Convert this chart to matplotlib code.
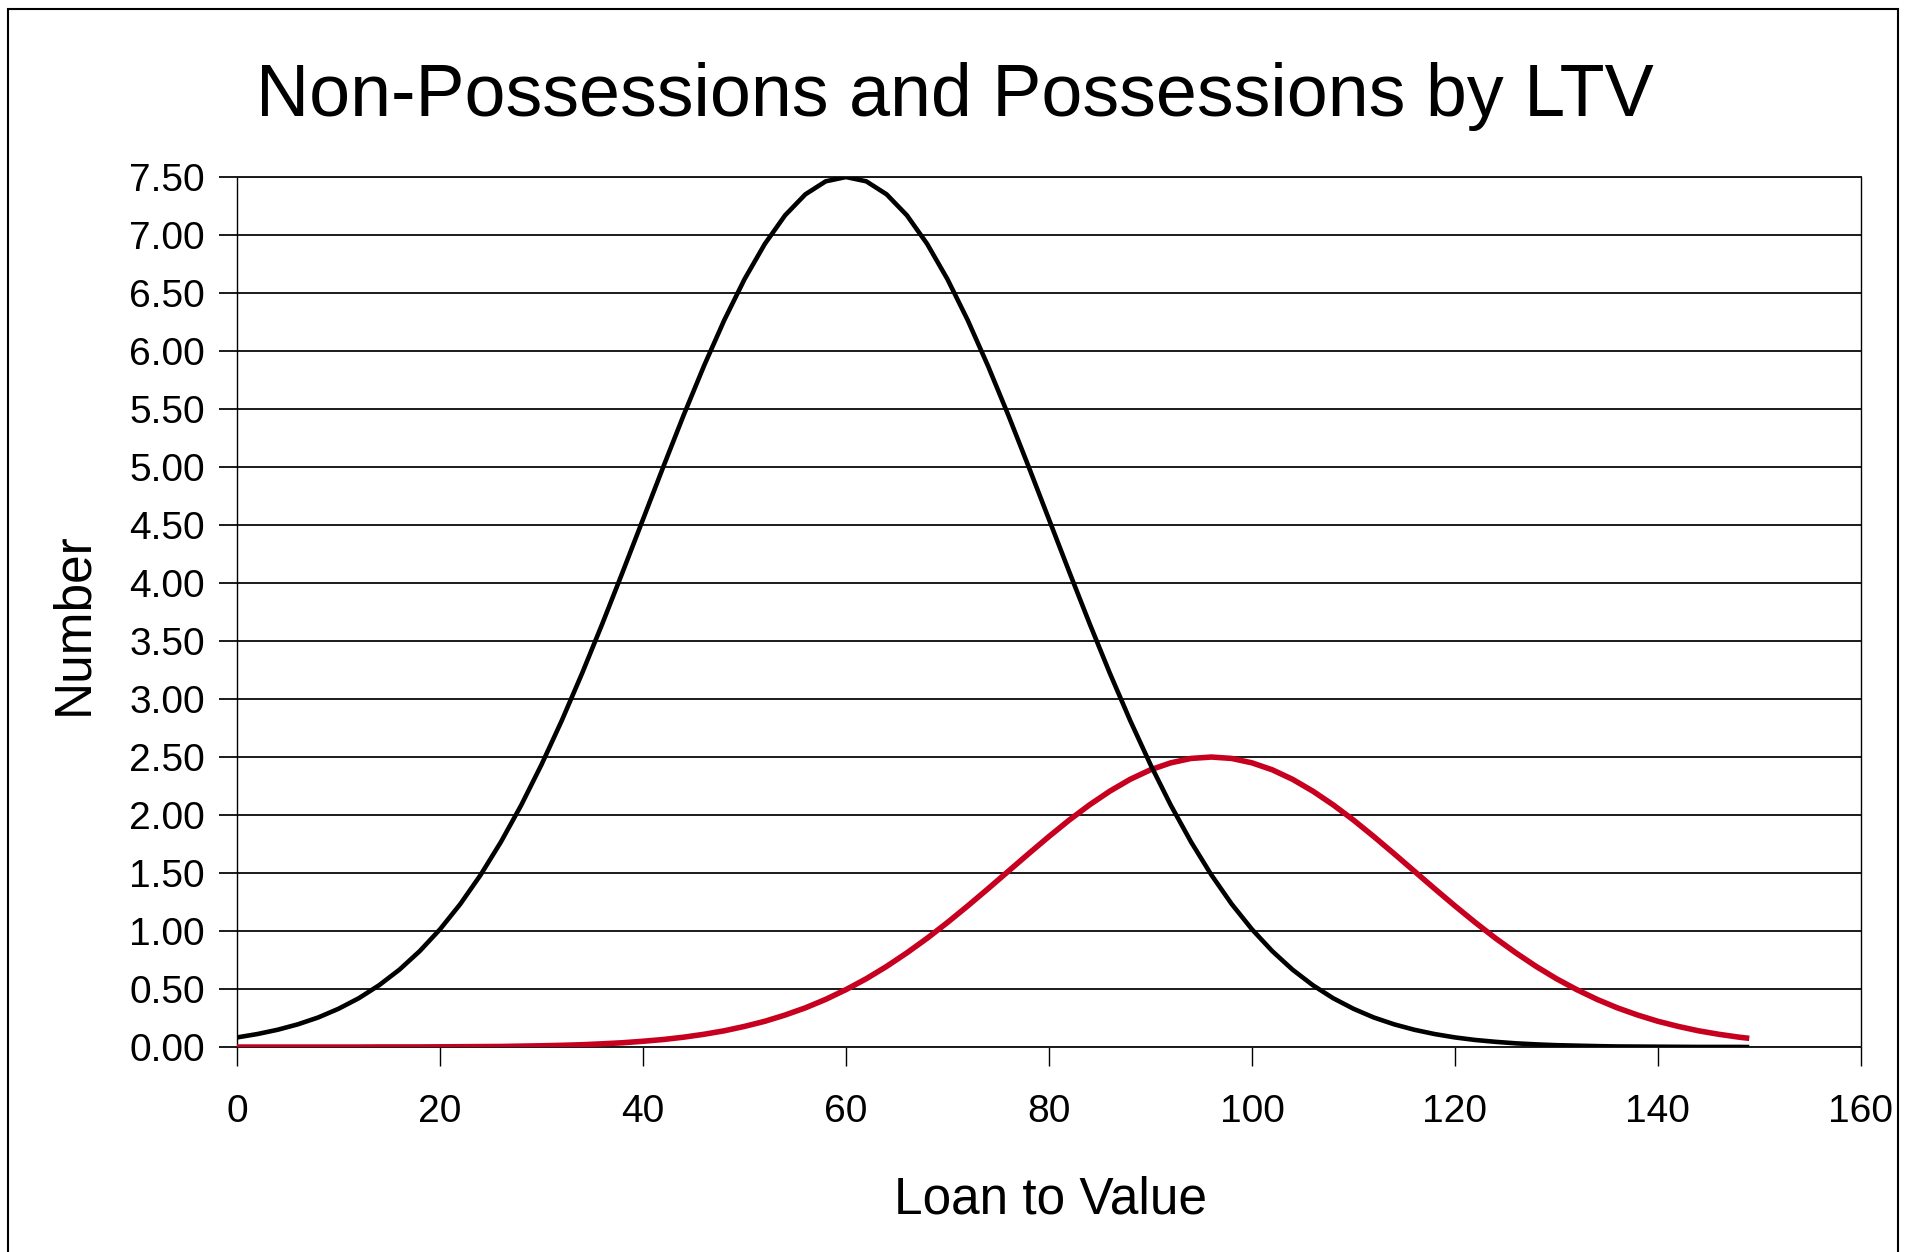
import numpy as np
import matplotlib
matplotlib.use("Agg")
from matplotlib import pyplot as plt
from matplotlib import font_manager
from matplotlib.patches import Rectangle

# Loan to value (x) and number of cases for each group
ltv = [0, 2, 4, 6, 8, 10, 12, 14, 16, 18, 20, 22, 24, 26, 28, 30, 32, 34, 36, 38,
       40, 42, 44, 46, 48, 50, 52, 54, 56, 58, 60, 62, 64, 66, 68, 70, 72, 74, 76, 78,
       80, 82, 84, 86, 88, 90, 92, 94, 96, 98, 100, 102, 104, 106, 108, 110, 112, 114,
       116, 118, 120, 122, 124, 126, 128, 130, 132, 134, 136, 138, 140, 142, 144, 146,
       148, 149]

non_possessions = [0.083, 0.112, 0.149, 0.196, 0.255, 0.330, 0.421, 0.533, 0.667, 0.827,
                   1.015, 1.233, 1.484, 1.768, 2.085, 2.435, 2.815, 3.222, 3.651, 4.096,
                   4.549, 5.002, 5.446, 5.870, 6.265, 6.619, 6.923, 7.170, 7.351, 7.463,
                   7.500, 7.463, 7.351, 7.170, 6.923, 6.619, 6.265, 5.870, 5.446, 5.002,
                   4.549, 4.096, 3.651, 3.222, 2.815, 2.435, 2.085, 1.768, 1.484, 1.233,
                   1.015, 0.827, 0.667, 0.533, 0.421, 0.330, 0.255, 0.196, 0.149, 0.112,
                   0.083, 0.061, 0.045, 0.032, 0.023, 0.016, 0.012, 0.008, 0.005, 0.004,
                   0.003, 0.002, 0.001, 0.001, 0.001, 0.000]

possessions = [0.000, 0.000, 0.000, 0.000, 0.000, 0.000, 0.000, 0.001, 0.001, 0.001,
               0.002, 0.003, 0.004, 0.005, 0.008, 0.011, 0.015, 0.020, 0.028, 0.037,
               0.050, 0.065, 0.085, 0.110, 0.140, 0.178, 0.222, 0.276, 0.338, 0.411,
               0.495, 0.589, 0.695, 0.812, 0.938, 1.074, 1.217, 1.365, 1.516, 1.667,
               1.815, 1.957, 2.088, 2.206, 2.308, 2.390, 2.450, 2.488, 2.500, 2.488,
               2.450, 2.390, 2.308, 2.206, 2.088, 1.957, 1.815, 1.667, 1.516, 1.365,
               1.217, 1.074, 0.938, 0.812, 0.695, 0.589, 0.495, 0.411, 0.338, 0.276,
               0.222, 0.178, 0.140, 0.110, 0.085, 0.075]

x_ticks = [0, 20, 40, 60, 80, 100, 120, 140, 160]
y_ticks = [0.0, 0.5, 1.0, 1.5, 2.0, 2.5, 3.0, 3.5, 4.0, 4.5, 5.0, 5.5, 6.0, 6.5, 7.0, 7.5]

# narrow Arial-like face if present, sizes below suit the regular width
names = {f.name for f in font_manager.fontManager.ttflist}
narrow = 'Liberation Sans Narrow' in names
face = 'Liberation Sans Narrow' if narrow else 'Liberation Sans'
plt.rcParams['font.family'] = [face, 'DejaVu Sans']
k = 1.15 if narrow else 1.0

fig = plt.figure(figsize=(19.10, 12.52), dpi=100)
ax = fig.add_axes([0.1241, 0.1637, 0.9743 - 0.1241, 0.8586 - 0.1637])

ax.plot(ltv, possessions, color='#C80020', lw=4.0, zorder=3,
        solid_capstyle='butt', solid_joinstyle='round')
ax.plot(ltv, non_possessions, color='black', lw=3.3, zorder=4,
        solid_capstyle='butt', solid_joinstyle='round')

ax.set_xlim(0, 160)
ax.set_ylim(0, 7.5)
ax.set_xticks(x_ticks)
ax.set_yticks(y_ticks)
ax.set_yticklabels(['%.2f' % v for v in y_ticks])
ax.yaxis.grid(True, color='#1a1a1a', lw=1.4)
ax.set_axisbelow(True)

for side in ['top', 'bottom']:
    ax.spines[side].set_color('#1a1a1a')
    ax.spines[side].set_linewidth(1.4)
for side in ['left', 'right']:
    ax.spines[side].set_color('black')
    ax.spines[side].set_linewidth(1.0)

ax.tick_params(axis='y', direction='out', length=13, width=1.4, color='#1a1a1a',
               pad=10, labelsize=28 * k)
ax.tick_params(axis='x', direction='out', length=14, width=1.0, color='black',
               pad=20, labelsize=28 * k)

fig.text(0.5, 1 - 116 / 1252, 'Non-Possessions and Possessions by LTV',
         ha='center', va='baseline', fontsize=53 * k)
fig.text(1050 / 1910, 1 - 1214 / 1252, 'Loan to Value',
         ha='center', va='baseline', fontsize=37 * k)
fig.text(74 / 1910, 1 - 624 / 1252, 'Number', rotation=90,
         ha='center', va='center', fontsize=37 * k)

# chart frame
fig.patches.append(Rectangle((8 / 1910, -0.02), (1898 - 8) / 1910, 1.02 - 9 / 1252,
                             transform=fig.transFigure, fill=False,
                             edgecolor='black', lw=1.5))

fig.savefig('out.png', dpi=100)
